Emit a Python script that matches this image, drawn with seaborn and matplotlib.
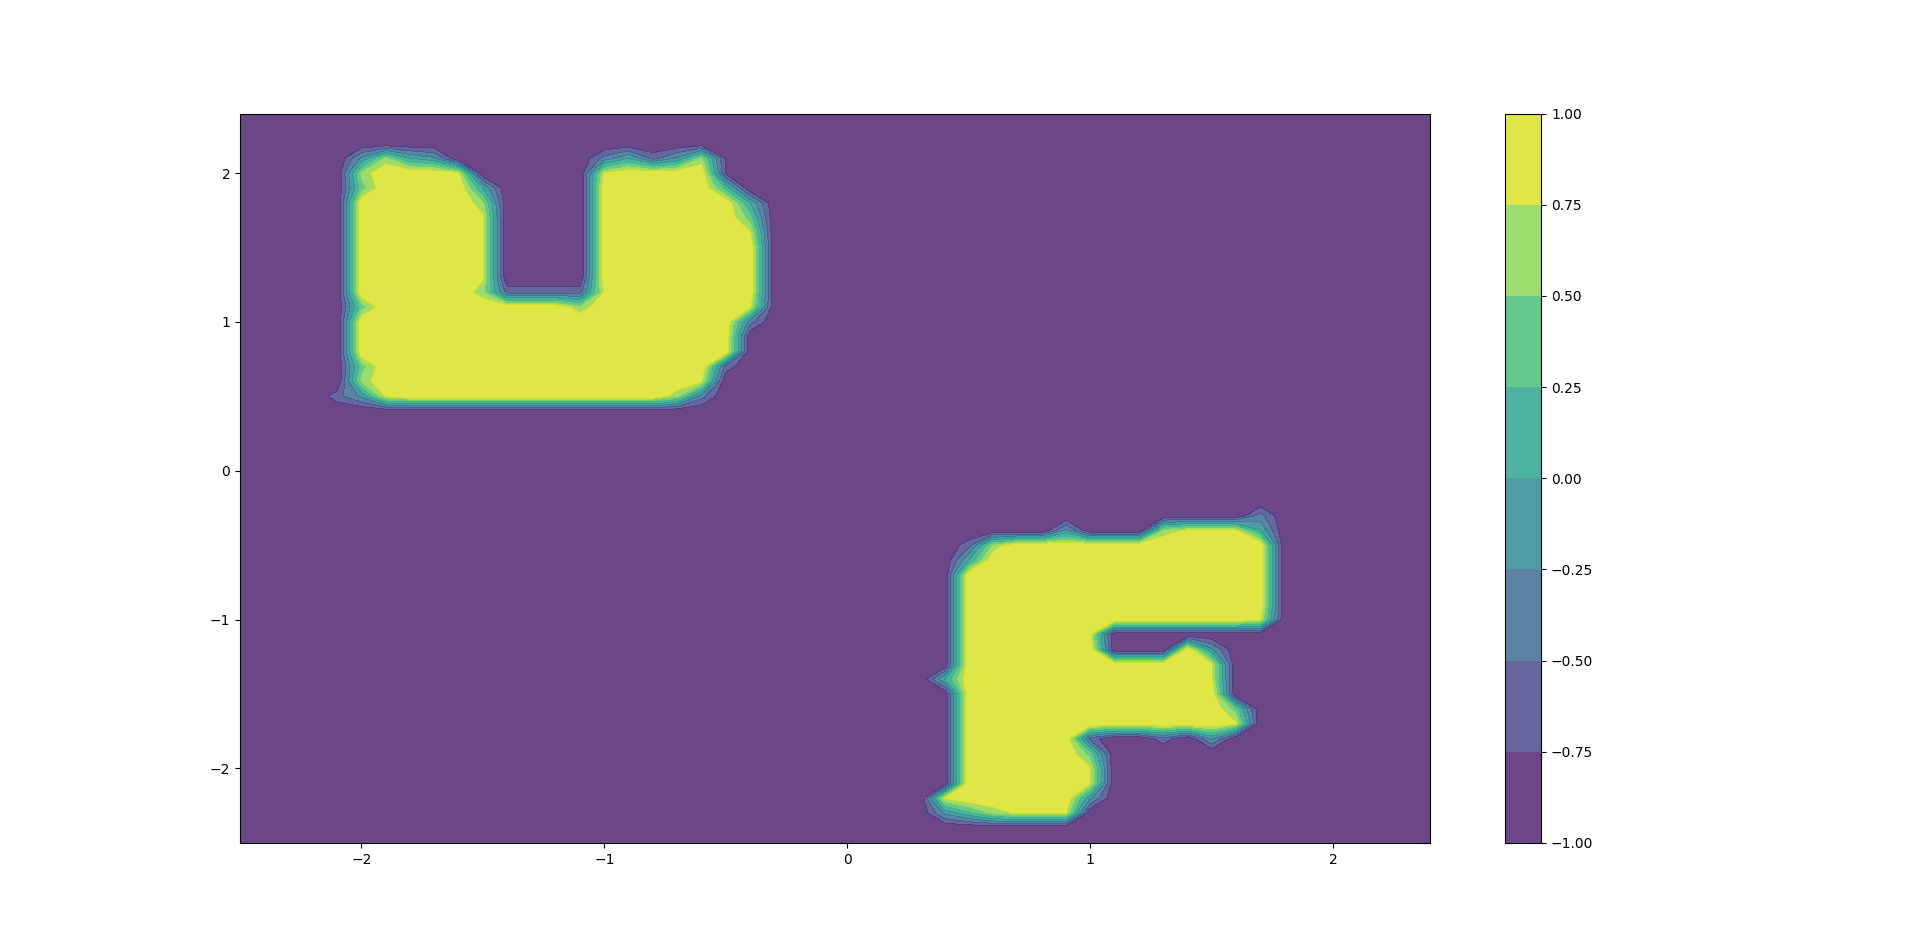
import numpy as np
import matplotlib
matplotlib.use("Agg")
import matplotlib.pyplot as plt
import seaborn as sns

# ===== grid (step 0.1) =====
x_start, x_stop, step = -2.5, 2.4, 0.1
y_start, y_stop = -2.5, 2.4

# cell codes: '.' = -1, '#' = +1, digit d = (d - 5) / 5
u_corner = (-2.1, 2.2)   # (x of first column, y of first row)
u_rows = [
    "...................",
    ".4854......352481..",
    ".8###9.....9####1..",
    ".7####5....#####6..",
    ".#####8....######5.",
    ".#####9....######7.",
    ".#####9....######9.",
    ".#####9....#######.",
    ".#####9....#######.",
    ".#####9....#######.",
    ".#####822229######.",
    ".7########8######9.",
    ".################3.",
    ".################..",
    ".################..",
    ".7##############2..",
    ".8#############9...",
    "249###########83...",
    "...................",
]

f_corner = (0.3, -0.2)
f_rows = [
    "................",
    "..............3.",
    "......4...89995.",
    "..28###########.",
    "..5############.",
    "..#############.",
    "..#############.",
    "..#############.",
    "..############9.",
    "..#####9........",
    "..######...#4...",
    "..##########9...",
    ".5##########9...",
    "..###########...",
    "..###########7..",
    "..###########9..",
    "..#####2..2.4...",
    "..#####7........",
    "..#####9........",
    "..#####9........",
    ".9#####4........",
    ".468999.........",
    "................",
]


def code_value(ch):
    if ch == ".":
        return -1.0
    if ch == "#":
        return 1.0
    return (int(ch) - 5) / 5


xs = np.round(np.arange(x_start, x_stop + step / 2, step), 1)
ys = np.round(np.arange(y_start, y_stop + step / 2, step), 1)
Z = np.full((len(ys), len(xs)), -1.0)

for (x0, y0), rows in [(u_corner, u_rows), (f_corner, f_rows)]:
    c0 = int(round((x0 - x_start) / step))
    r0 = int(round((y0 - y_start) / step))
    for i, row in enumerate(rows):
        for j, ch in enumerate(row):
            Z[r0 - i, c0 + j] = code_value(ch)

xx, yy = np.meshgrid(xs, ys)

# ===== plot =====
cmap = sns.color_palette("viridis", as_cmap=True)
fig = plt.figure(figsize=(19.2, 9.47), dpi=100)
plt.contourf(xx, yy, Z, cmap=cmap, alpha=0.8)
plt.colorbar()
plt.savefig("out.png", dpi=100)
plt.close()
